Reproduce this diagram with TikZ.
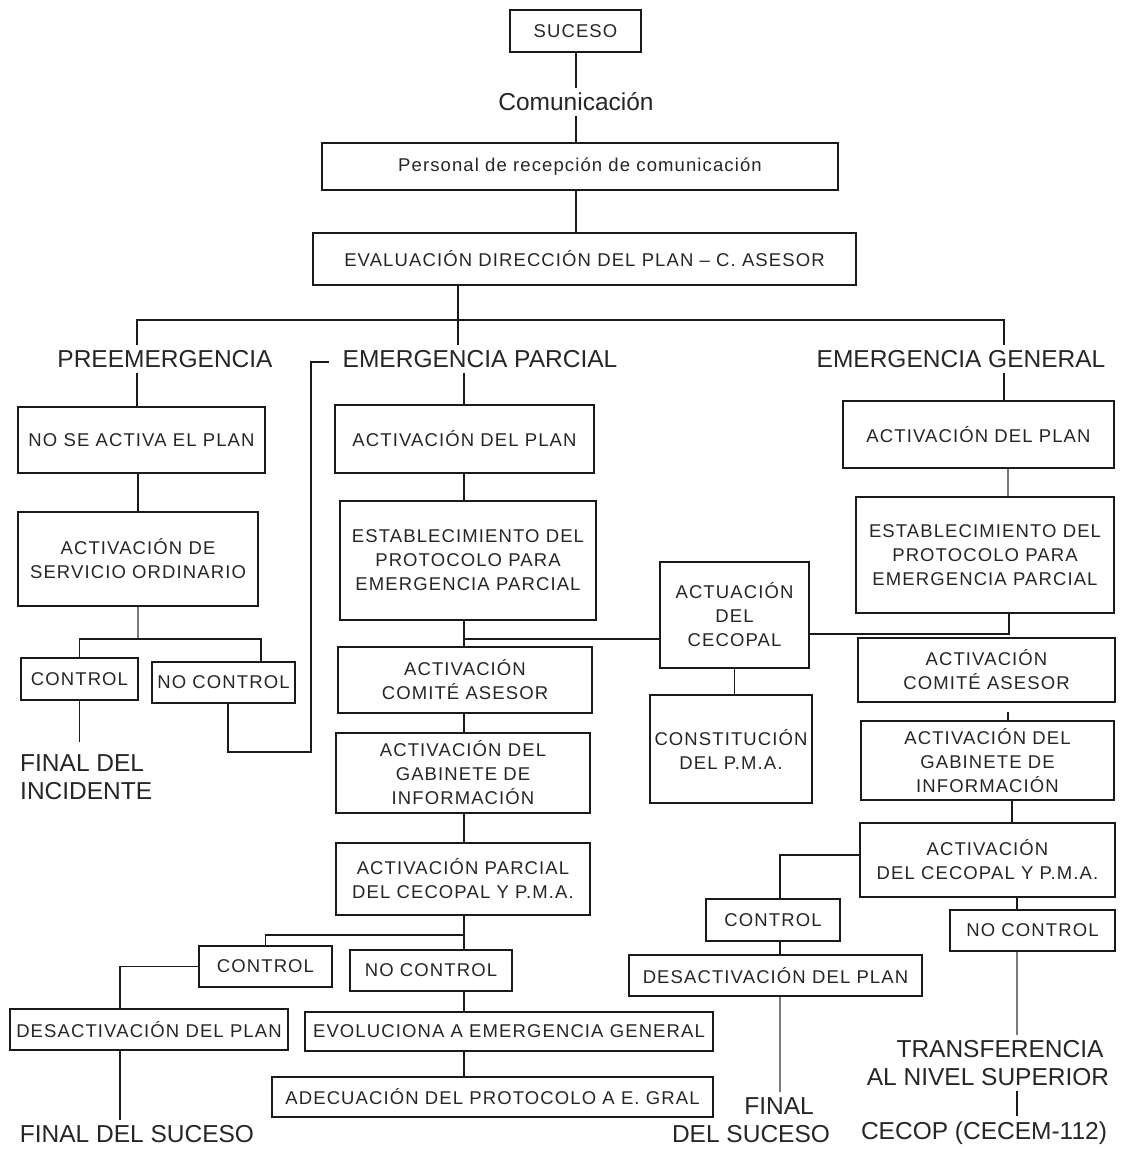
\documentclass[tikz,border=0pt]{standalone}
\usepackage{fontspec}
\setmainfont{Liberation Sans}
\newfontfamily\bxfam[LetterSpace=6]{Liberation Sans}
\usetikzlibrary{calc}
\definecolor{ink}{HTML}{262626}
\definecolor{lc}{HTML}{1A1A1A}
\definecolor{lg}{HTML}{7A7A7A}
\newcommand\bxn[6]{\node[bx, minimum width={(#4-#2)*1pt}, minimum height={(#5-#3)*1pt}] (#1) at ({(#2+#4)/2},{(#3+#5)/2}) {#6};}
\begin{document}
\begin{tikzpicture}[x=1pt,y=-1pt,
  bx/.style={draw=lc, line width=1.9pt, inner sep=0pt, align=center, text=ink, font=\bxfam\fontsize{18.5}{24}\selectfont},
  captxt/.style={inner sep=5pt, text=ink, align=center, font=\fontsize{24.5}{28}\selectfont},
  ln/.style={draw=lc, line width=1.8pt},
  lng/.style={draw=lg, line width=1.8pt}]
\fill[white] (0,0) rectangle (1121,1149);
\useasboundingbox (0,0) rectangle (1121,1149);

% top
\bxn{suceso}{510}{10}{641}{52}{SUCESO}
\node[captxt] (comu) at (576,102) {Comunicación};
\bxn{personal}{322}{143}{838}{190}{Personal de recepción de comunicación}
\bxn{evaluacion}{313}{233}{856}{285}{EVALUACIÓN DIRECCIÓN DEL PLAN – C. ASESOR}
\node[captxt] (pre) at (165,359) {PREEMERGENCIA};
\node[captxt] (ep) at (480,359) {EMERGENCIA PARCIAL};
\node[captxt] (eg) at (961,359) {EMERGENCIA GENERAL};

% left column
\bxn{nosea}{18}{407}{265}{473}{NO SE ACTIVA EL PLAN}
\bxn{servicio}{18}{512}{258}{606}{ACTIVACIÓN DE\\SERVICIO ORDINARIO}
\bxn{controlL}{21}{658}{138}{700}{CONTROL}
\bxn{nocontrolL}{152}{662}{295}{703}{NO CONTROL}
\node[captxt, align=left, anchor=west, inner xsep=0pt, inner ysep=12pt] (finalInc) at (20,777) {FINAL DEL\\INCIDENTE};

% middle column
\bxn{actplanM}{335}{405}{594}{473}{ACTIVACIÓN DEL PLAN}
\bxn{estabM}{340}{501}{596}{620}{ESTABLECIMIENTO DEL\\PROTOCOLO PARA\\EMERGENCIA PARCIAL}
\bxn{comiteM}{338}{647}{592}{713}{ACTIVACIÓN\\COMITÉ ASESOR}
\bxn{gabM}{336}{733}{590}{813}{ACTIVACIÓN DEL\\GABINETE DE\\INFORMACIÓN}
\bxn{parcialM}{336}{843}{590}{915}{ACTIVACIÓN PARCIAL\\DEL CECOPAL Y P.M.A.}
\bxn{controlM}{199}{946}{332}{987}{CONTROL}
\bxn{nocontrolM}{350}{950}{512}{991}{NO CONTROL}
\bxn{desactL}{10}{1009}{288}{1050}{DESACTIVACIÓN DEL PLAN}
\bxn{evol}{305}{1012}{713}{1051}{EVOLUCIONA A EMERGENCIA GENERAL}
\bxn{adec}{272}{1077}{713}{1117}{ADECUACIÓN DEL PROTOCOLO A E. GRAL}
\node[captxt] (finalSucL) at (137,1134) {FINAL DEL SUCESO};

% centre
\bxn{cecopal}{660}{562}{809}{668}{ACTUACIÓN\\DEL\\CECOPAL}
\bxn{constit}{650}{695}{812}{803}{CONSTITUCIÓN\\DEL P.M.A.}

% right column
\bxn{actplanR}{843}{401}{1114}{468}{ACTIVACIÓN DEL PLAN}
\bxn{estabR}{856}{497}{1114}{613}{ESTABLECIMIENTO DEL\\PROTOCOLO PARA\\EMERGENCIA PARCIAL}
\bxn{comiteR}{858}{638}{1115}{702}{ACTIVACIÓN\\COMITÉ ASESOR}
\bxn{gabR}{861}{721}{1114}{800}{ACTIVACIÓN DEL\\GABINETE DE\\INFORMACIÓN}
\bxn{cecopalR}{860}{823}{1115}{897}{ACTIVACIÓN\\DEL CECOPAL Y P.M.A.}
\bxn{controlR}{706}{899}{840}{941}{CONTROL}
\bxn{desactR}{629}{955}{922}{996}{DESACTIVACIÓN DEL PLAN}
\bxn{nocontrolR}{950}{910}{1115}{951}{NO CONTROL}
\node[captxt] (finalR) at (751,1120) {\hspace*{56pt}FINAL\\DEL SUCESO};
\node[captxt] (transf) at (988,1063) {\hspace*{24pt}TRANSFERENCIA\\AL NIVEL SUPERIOR};
\node[captxt] (cecop) at (984,1133) {CECOP (CECEM-112)};

% connectors: top
\coordinate (xt) at (576,0);
\coordinate (bus0) at (458,320);
\coordinate (busL) at (137,320);
\coordinate (busR) at (1004,320);
\draw[ln] (xt |- suceso.south) -- (xt |- comu.north);
\draw[ln] (xt |- comu.south) -- (xt |- personal.north);
\draw[ln] (xt |- personal.south) -- (xt |- evaluacion.north);
\draw[ln] (bus0 |- evaluacion.south) -- (bus0);
\draw[ln] (busL |- pre.north) -- (busL) -- (busR) -- (busR |- eg.north);
\draw[ln] (bus0) -- (bus0 |- ep.north);

% left
\coordinate (b2) at (138,639);
\coordinate (b2r) at (261,639);
\coordinate (jL) at (311,752);
\coordinate (hook) at (329,362);
\draw[ln] (busL |- pre.south) -- (busL |- nosea.north);
\draw[ln] (b2 |- nosea.south) -- (b2 |- servicio.north);
\draw[lng] (b2 |- servicio.south) -- (b2);
\draw[ln] (controlL.north) |- (b2r) -- (b2r |- nocontrolL.north);
\draw[ln] (controlL.south) -- (controlL.south |- finalInc.north);
\draw[ln] ($(nocontrolL.south)+(4.5,0)$) |- (jL) |- (hook);

% middle
\coordinate (xm) at (464,0);
\coordinate (jM) at (464,639);
\coordinate (jP) at (464,935);
\coordinate (xC) at (120,0);
\draw[ln] (xm |- ep.south) -- (xm |- actplanM.north);
\draw[ln] (xm |- actplanM.south) -- (xm |- estabM.north);
\draw[ln] (xm |- estabM.south) -- (xm |- comiteM.north);
\draw[ln] (jM) -- (jM -| cecopal.west);
\draw[ln] (xm |- comiteM.south) -- (xm |- gabM.north);
\draw[ln] (xm |- gabM.south) -- (xm |- parcialM.north);
\draw[ln] (xm |- parcialM.south) -- (xm |- nocontrolM.north);
\draw[ln] (jP) -| (controlM.north);
\draw[ln] (controlM.west) -| (xC |- desactL.north);
\draw[ln] (xC |- desactL.south) -- (xC |- finalSucL.north);
\draw[ln] (xm |- nocontrolM.south) -- (xm |- evol.north);
\draw[ln] (xm |- evol.south) -- (xm |- adec.north);

% centre
\coordinate (jR) at (1009,634);
\draw[ln] (cecopal.south) -- (cecopal.south |- constit.north);
\draw[ln] (cecopal.east |- jR) -- (jR) -- (jR |- estabR.south);

% right
\coordinate (xr) at (1008,0);
\coordinate (xr2) at (1012,0);
\coordinate (jK) at (780,855);
\coordinate (xn) at (1017,0);
\draw[ln] (busR |- eg.south) -- (busR |- actplanR.north);
\draw[lng] (xr |- actplanR.south) -- (xr |- estabR.north);
\draw[ln] ($(xr |- gabR.north)+(0,-8)$) -- (xr |- gabR.north);
\draw[ln] (xr2 |- gabR.south) -- (xr2 |- cecopalR.north);
\draw[ln] (cecopalR.west |- jK) -- (jK) -- (jK |- controlR.north);
\draw[ln] (jK |- controlR.south) -- (jK |- desactR.north);
\draw[lng] (jK |- desactR.south) -- (jK |- finalR.north);
\draw[ln] (xn |- cecopalR.south) -- (xn |- nocontrolR.north);
\draw[lng] (xn |- nocontrolR.south) -- (xn |- transf.north);
\draw[ln] (xn |- transf.south) -- (xn |- cecop.north);
\end{tikzpicture}
\end{document}
